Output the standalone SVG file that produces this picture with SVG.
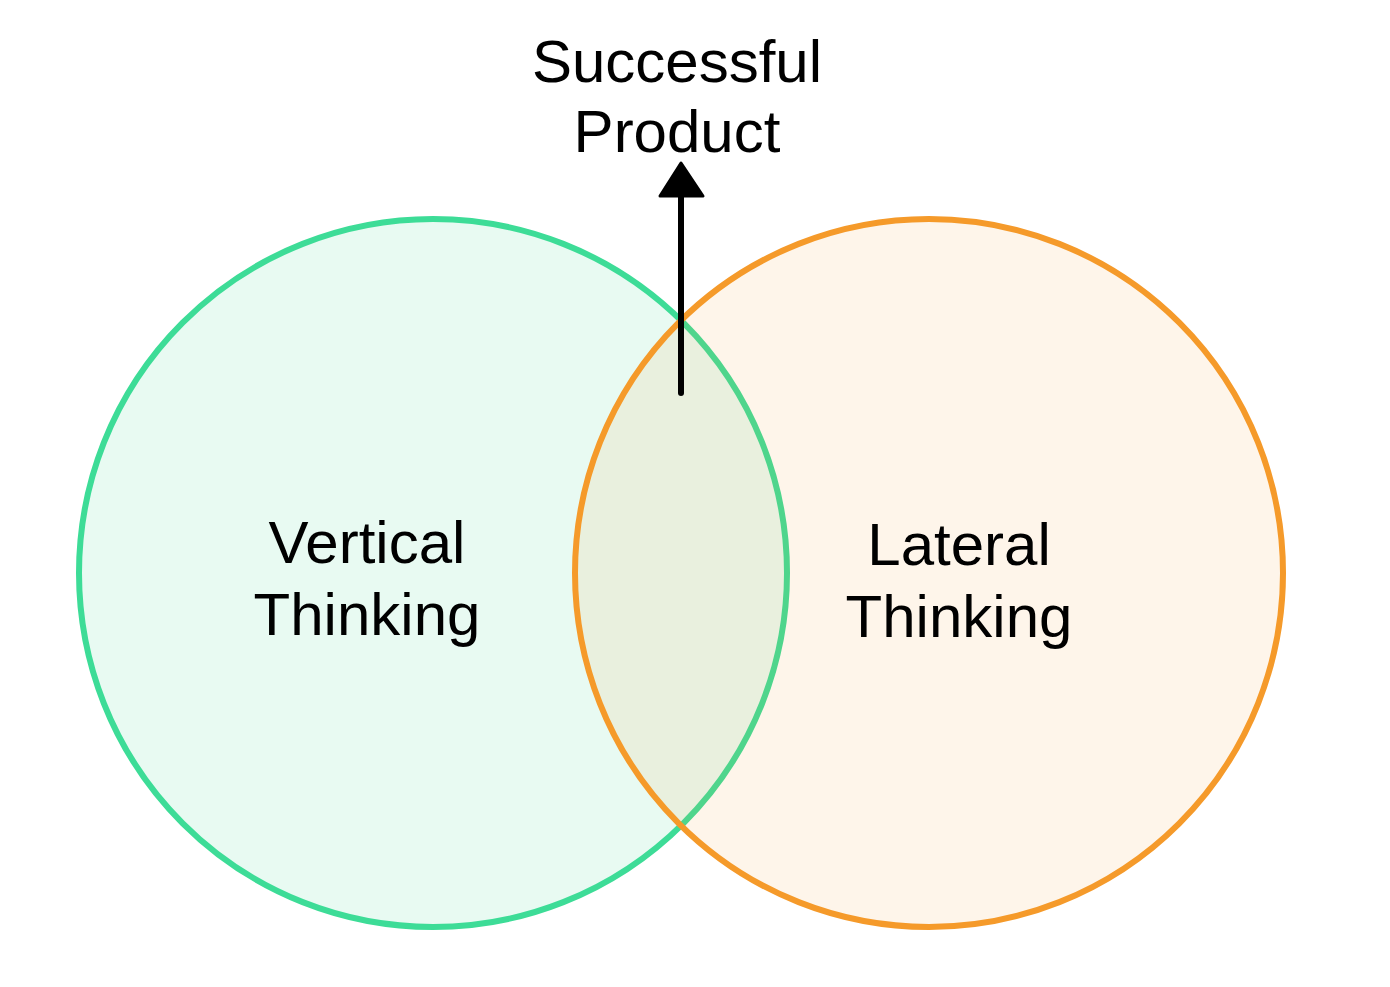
<svg xmlns="http://www.w3.org/2000/svg" width="1390" height="987" viewBox="0 0 1390 987">
<style>
text{font-family:"Liberation Sans",Arial,sans-serif;font-size:60px;fill:#000;text-anchor:middle}
</style>
<rect width="1390" height="987" fill="#fff"/>
<g id="vertical">
<circle cx="433" cy="573" r="354" fill="#E8FAF2" stroke="#3DDC97" stroke-width="6"/>
<text x="367" y="563">Vertical</text>
<text x="367" y="635">Thinking</text>
</g>
<g id="lateral">
<circle cx="929" cy="573" r="354" fill="#F5A030" fill-opacity="0.1" stroke="#F59A2A" stroke-width="6"/>
<text x="959" y="565">Lateral</text>
<text x="959" y="637">Thinking</text>
</g>
<g id="product">
<text x="677" y="82">Successful</text>
<text x="677" y="152">Product</text>
</g>
<g id="connectors">
<line x1="681" y1="393" x2="681" y2="194" stroke="#000" stroke-width="6" stroke-linecap="round"/>
<polygon points="681,163 703,196 660,196" fill="#000" stroke="#000" stroke-width="3" stroke-linejoin="round"/>
</g>
</svg>
